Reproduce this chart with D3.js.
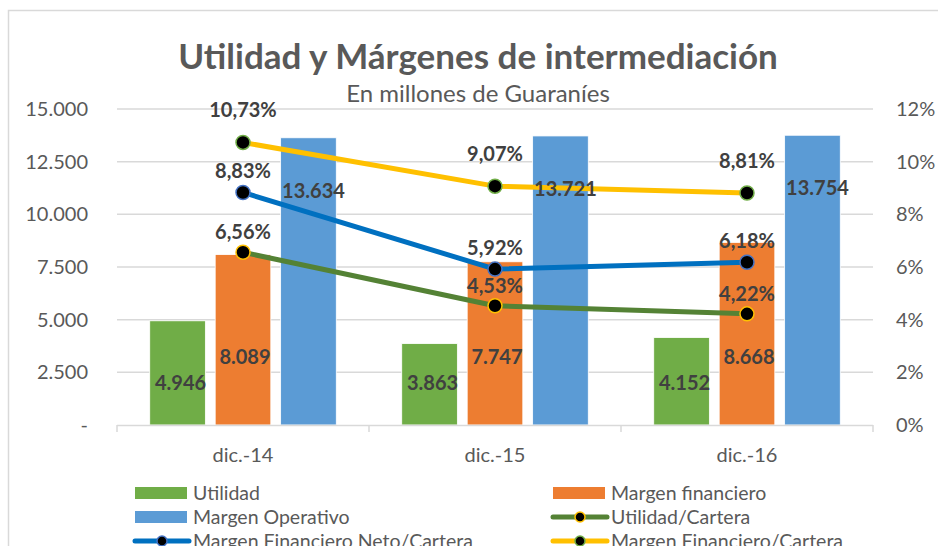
<!DOCTYPE html>
<html><head><meta charset="utf-8">
<script src="https://cdn.jsdelivr.net/npm/d3@7/dist/d3.min.js"></script>
<style>body{margin:0;background:#fff}svg{display:block}text{font-family:Lato,"Open Sans",sans-serif}</style>
</head><body><svg id="c" width="938" height="546"></svg>
<script>
const categories = ["dic.-14", "dic.-15", "dic.-16"];
const utilidad = [4946, 3863, 4152];
const margenFinanciero = [8089, 7747, 8668];
const margenOperativo = [13634, 13721, 13754];
const utilidadCartera = [6.56, 4.53, 4.22];
const mfnCartera = [8.83, 5.92, 6.18];
const mfCartera = [10.73, 9.07, 8.81];
const leftTicks = [0, 2500, 5000, 7500, 10000, 12500, 15000];
const rightTicks = [0, 2, 4, 6, 8, 10, 12];

const svg = d3.select("#c");
const M = {l:117, r:873, t:109, b:425};
const x = d3.scaleBand().domain(categories).range([M.l, M.r]);
const barSeries = [
  {name:"Utilidad", values:utilidad, color:"#70AD47"},
  {name:"Margen financiero", values:margenFinanciero, color:"#ED7D31"},
  {name:"Margen Operativo", values:margenOperativo, color:"#5B9BD5"}
];
const xs = d3.scaleBand().domain(barSeries.map(d=>d.name)).range([0, x.bandwidth()]).paddingOuter(0.5).paddingInner(0.15);
const y = d3.scaleLinear().domain([0,15000]).range([M.b, M.t]);
const y2 = d3.scaleLinear().domain([0,12]).range([M.b, M.t]);
const textC = "#595959", labC = "#404040";

// chart border
svg.append("rect").attr("x",8.5).attr("y",10.5).attr("width",1000).attr("height",600).attr("fill","none").attr("stroke","#D9D9D9").attr("stroke-width",1.5);

// title
svg.append("text").attr("x",478).attr("y",69).attr("text-anchor","middle").attr("font-size",35).attr("font-weight","bold").attr("fill",textC).text("Utilidad y Márgenes de intermediación");
svg.append("text").attr("x",478).attr("y",102).attr("text-anchor","middle").attr("font-size",24).attr("fill",textC).text("En millones de Guaraníes");

// gridlines
svg.append("g").selectAll("line").data(leftTicks.slice(1)).join("line")
  .attr("x1",M.l).attr("x2",M.r).attr("y1",d=>y(d)).attr("y2",d=>y(d))
  .attr("stroke","#D9D9D9").attr("stroke-width",1.5);

// left axis
const ay = svg.append("g").attr("transform",`translate(${M.l},0)`)
  .call(d3.axisLeft(y).tickValues(leftTicks).tickSize(0).tickPadding(29)
  .tickFormat(d=> d===0 ? "-" : d3.format(",")(d).replace(/,/g,".")));
ay.select(".domain").remove();
ay.selectAll("text").attr("font-size",20).attr("fill",textC).attr("font-family","Lato");

// right axis
const ay2 = svg.append("g").attr("transform",`translate(${M.r},0)`)
  .call(d3.axisRight(y2).tickValues(rightTicks).tickSize(0).tickPadding(23).tickFormat(d=>d+"%"));
ay2.select(".domain").remove();
ay2.selectAll("text").attr("font-size",20).attr("fill",textC).attr("font-family","Lato");

// bars
barSeries.forEach(s=>{
  svg.append("g").selectAll("rect").data(categories).join("rect")
    .attr("x",(c)=>x(c)+xs(s.name)).attr("width",xs.bandwidth())
    .attr("y",(c,i)=>y(s.values[i])).attr("height",(c,i)=>y(0)-y(s.values[i]))
    .attr("fill",s.color).attr("stroke","#fff").attr("stroke-width",0.8);
});

// x axis
svg.append("line").attr("x1",M.l).attr("x2",M.r).attr("y1",M.b+0.5).attr("y2",M.b+0.5).attr("stroke","#D9D9D9").attr("stroke-width",1.5);
const bounds = categories.map(c=>x(c)).concat([M.r]);
svg.append("g").selectAll("line").data(bounds).join("line")
  .attr("x1",d=>d).attr("x2",d=>d).attr("y1",M.b).attr("y2",M.b+7).attr("stroke","#D9D9D9").attr("stroke-width",1.5);
svg.append("g").selectAll("text").data(categories).join("text")
  .attr("x",d=>x(d)+x.bandwidth()/2).attr("y",462).attr("text-anchor","middle")
  .attr("font-size",20).attr("fill",textC).text(d=>d);

// lines
const lineSeries = [
  {name:"Utilidad/Cartera", values:utilidadCartera, color:"#548235", mk:"#FFC000", off:20},
  {name:"Margen Financiero Neto/Cartera", values:mfnCartera, color:"#0070C0", mk:"#4472C4", off:21},
  {name:"Margen Financiero/Cartera", values:mfCartera, color:"#FFC000", mk:"#70AD47", off:32}
];
const cx = c=>x(c)+x.bandwidth()/2;
const line = d3.line().x(d=>cx(d.c)).y(d=>y2(d.v));
lineSeries.forEach(s=>{
  const pts = categories.map((c,i)=>({c, v:s.values[i]}));
  svg.append("path").datum(pts).attr("d",line).attr("fill","none").attr("stroke",s.color).attr("stroke-width",5).attr("stroke-linejoin","round").attr("stroke-linecap","round");
});
lineSeries.forEach(s=>{
  const pts = categories.map((c,i)=>({c, v:s.values[i]}));
  svg.append("g").selectAll("circle").data(pts).join("circle")
    .attr("cx",d=>cx(d.c)).attr("cy",d=>y2(d.v)).attr("r",7)
    .attr("fill","#000").attr("stroke",s.mk).attr("stroke-width",1.5);
});

// bar labels
const fmtN = d=>d3.format(",")(d).replace(/,/g,".");
const barLabY = [ (v)=>y(0)-35, (v)=>y(0)-61, (v)=>y(v)+60 ];
const barLabDx = [3, 2, 5];
barSeries.forEach((s,k)=>{
  svg.append("g").selectAll("text").data(categories).join("text")
    .attr("x",c=>x(c)+xs(s.name)+xs.bandwidth()/2+barLabDx[k])
    .attr("y",(c,i)=>barLabY[k](s.values[i]))
    .attr("text-anchor","middle").attr("font-size",20).attr("font-weight","bold").attr("fill",labC)
    .text((c,i)=>fmtN(s.values[i]));
});

// line labels
lineSeries.forEach(s=>{
  svg.append("g").selectAll("text").data(categories).join("text")
    .attr("x",c=>cx(c)).attr("y",(c,i)=>y2(s.values[i])-s.off+7)
    .attr("text-anchor","middle").attr("font-size",20).attr("font-weight","bold").attr("fill",labC)
    .text((c,i)=>s.values[i].toFixed(2).replace(".",",")+"%");
});

// legend
const legend = [
  {t:"Utilidad", type:"bar", c:"#70AD47"},
  {t:"Margen financiero", type:"bar", c:"#ED7D31"},
  {t:"Margen Operativo", type:"bar", c:"#5B9BD5"},
  {t:"Utilidad/Cartera", type:"line", c:"#548235", mk:"#FFC000"},
  {t:"Margen Financiero Neto/Cartera", type:"line", c:"#0070C0", mk:"#4472C4"},
  {t:"Margen Financiero/Cartera", type:"line", c:"#FFC000", mk:"#70AD47"}
];
const lg = svg.append("g").selectAll("g").data(legend).join("g")
  .attr("transform",(d,i)=>`translate(${i%2===0?135:553},${493+Math.floor(i/2)*24})`);
lg.filter(d=>d.type==="bar").append("rect").attr("x",0).attr("y",-6).attr("width",52).attr("height",12).attr("fill",d=>d.c);
lg.filter(d=>d.type==="line").append("line").attr("x1",0).attr("x2",54).attr("y1",0).attr("y2",0).attr("stroke",d=>d.c).attr("stroke-width",5).attr("stroke-linecap","round");
lg.filter(d=>d.type==="line").append("circle").attr("cx",27).attr("cy",0).attr("r",5).attr("fill","#000").attr("stroke",d=>d.mk).attr("stroke-width",1.5);
lg.append("text").attr("x",58).attr("y",7).attr("font-size",19.5).attr("fill",textC).text(d=>d.t);
</script></body></html>
